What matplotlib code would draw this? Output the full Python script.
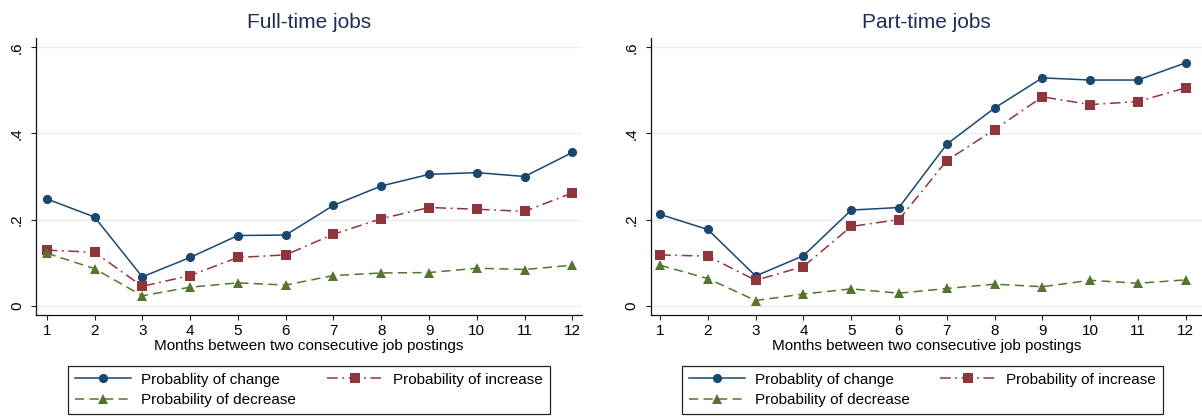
import matplotlib
matplotlib.use("Agg")
import matplotlib.pyplot as plt
from matplotlib.lines import Line2D

plt.rcParams['font.family'] = ['Liberation Sans', 'DejaVu Sans']

months = [1, 2, 3, 4, 5, 6, 7, 8, 9, 10, 11, 12]

ft_change   = [0.248, 0.206, 0.067, 0.112, 0.163, 0.164, 0.233, 0.278, 0.305, 0.309, 0.300, 0.356]
ft_increase = [0.129, 0.124, 0.045, 0.070, 0.112, 0.118, 0.166, 0.202, 0.228, 0.224, 0.219, 0.262]
ft_decrease = [0.122, 0.086, 0.023, 0.043, 0.053, 0.048, 0.070, 0.076, 0.077, 0.087, 0.084, 0.094]

pt_change   = [0.212, 0.177, 0.069, 0.116, 0.222, 0.228, 0.375, 0.459, 0.529, 0.524, 0.524, 0.564]
pt_increase = [0.118, 0.115, 0.059, 0.091, 0.184, 0.200, 0.337, 0.409, 0.485, 0.467, 0.474, 0.506]
pt_decrease = [0.094, 0.063, 0.012, 0.027, 0.039, 0.029, 0.040, 0.050, 0.044, 0.059, 0.052, 0.060]

titles = ["Full-time jobs", "Part-time jobs"]
xlabel = "Months between two consecutive job postings"
labels = ["Probablity of change", "Probability of increase", "Probability of decrease"]
yticks = [0, 0.2, 0.4, 0.6]
yticklabels = ["0", ".2", ".4", ".6"]

NAVY = "#1A476F"
MAROON = "#90353B"
GREEN = "#55752F"
GRID = "#E6EEF0"
TITLE_C = "#1E2D5C"

W, H = 1202, 417
fig = plt.figure(figsize=(W / 100, H / 100), dpi=100)

def px_box(x0, x1, ytop, ybot):
    return [x0 / W, 1 - ybot / H, (x1 - x0) / W, (ybot - ytop) / H]

panels = [
    dict(box=px_box(36, 582, 38, 315), xlim=(0.776, 12.20), data=(ft_change, ft_increase, ft_decrease),
         title=titles[0], leg=(68, 550)),
    dict(box=px_box(650.7, 1202, 38, 315), xlim=(0.805, 12.34), data=(pt_change, pt_increase, pt_decrease),
         title=titles[1], leg=(682, 1163)),
]

styles = [
    dict(color=NAVY, marker='o', markersize=6.6, linestyle='-'),
    dict(color=MAROON, marker='s', markersize=6.6, linestyle=(0, (7, 3, 1.2, 3))),
    dict(color=GREEN, marker='^', markersize=7.4, linestyle=(0, (6, 3.5))),
]

for p in panels:
    ax = fig.add_axes(p['box'])
    for vals, st in zip(p['data'], styles):
        ax.plot(months, vals, linewidth=1.1, markeredgewidth=0, **st, zorder=3)
    ax.set_xlim(*p['xlim'])
    ax.set_ylim(-0.0216, 0.6216)
    ax.set_xticks(months)
    ax.set_xticklabels([str(m) for m in months], fontsize=11)
    ax.set_yticks(yticks)
    ax.set_yticklabels(yticklabels, fontsize=11, rotation=90, va='center')
    for y in yticks:
        ax.axhline(y, color=GRID, linewidth=1.0, zorder=1)
    for s in ['top', 'right']:
        ax.spines[s].set_visible(False)
    for s in ['left', 'bottom']:
        ax.spines[s].set_color('#111111')
        ax.spines[s].set_linewidth(0.9)
    ax.tick_params(axis='both', direction='out', length=3.6, width=0.8, color='#222222')
    ax.tick_params(axis='x', pad=3)
    ax.tick_params(axis='y', pad=5)
    ax.set_xlabel(xlabel, fontsize=11, labelpad=0.5)
    ax.set_title(p['title'], fontsize=15, color=TITLE_C, pad=7)

    handles = [Line2D([], [], linewidth=1.1, markeredgewidth=0, **st) for st in styles]
    order = [0, 2, 1]
    lx0, lx1 = p['leg']
    leg = fig.legend([handles[i] for i in order], [labels[i] for i in order],
                     ncol=2, loc='upper left',
                     bbox_to_anchor=(lx0 / W, 1 - 366 / H, (lx1 - lx0) / W, 0.0001),
                     mode='expand', fontsize=11, frameon=True, fancybox=False,
                     edgecolor='#222222', framealpha=1, borderpad=0.45,
                     handlelength=3.7, handletextpad=0.65, labelspacing=0.42,
                     borderaxespad=0)
    leg.get_frame().set_linewidth(0.9)

fig.savefig("out.png", dpi=100)
